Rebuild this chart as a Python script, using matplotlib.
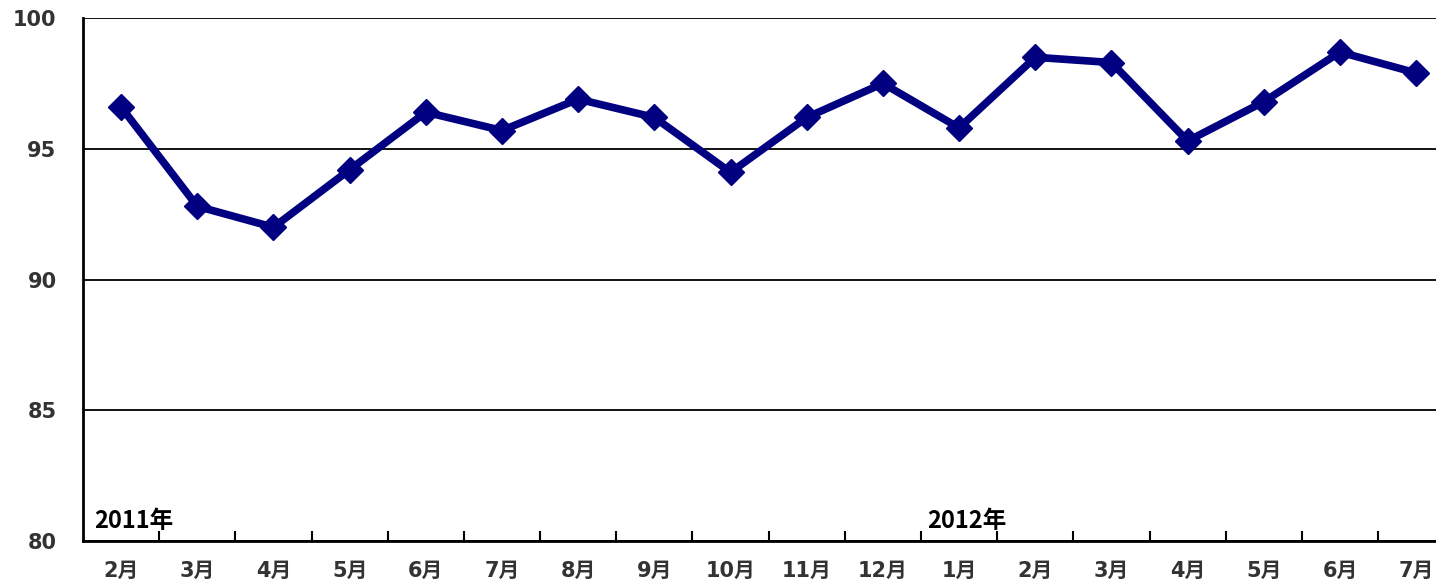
import matplotlib
matplotlib.use("Agg")
import matplotlib.pyplot as plt
from matplotlib.ticker import FixedLocator

plt.rcParams['font.family'] = ['DejaVu Sans', 'Noto Sans CJK JP']

# monthly index, Feb 2011 - Jul 2012
months = ['2月', '3月', '4月', '5月', '6月', '7月', '8月', '9月', '10月', '11月',
          '12月', '1月', '2月', '3月', '4月', '5月', '6月', '7月']
values = [96.6, 92.8, 92.0, 94.2, 96.4, 95.7, 96.9, 96.2, 94.1, 96.2,
          97.5, 95.8, 98.5, 98.3, 95.3, 96.8, 98.7, 97.9]
yticks = [80, 85, 90, 95, 100]

fig = plt.figure(figsize=(14.36, 5.83), dpi=100)
ax = fig.add_axes([0.0578, 0.072, 0.9422, 0.897])

x = list(range(len(months)))
ax.plot(x, values, color='#000080', lw=5.5, marker='D', ms=13, zorder=3,
        solid_joinstyle='miter')

ax.set_ylim(80, 100)
ax.set_xlim(-0.5, 17.26)
ax.set_yticks(yticks)
ax.yaxis.grid(True, color='black', lw=1.3)
ax.set_axisbelow(True)

ax.set_xticks(x)
ax.set_xticklabels(months)
ax.xaxis.set_minor_locator(FixedLocator([i + 0.5 for i in range(len(months) - 1)]))
ax.tick_params(axis='x', which='major', length=0, pad=14)
ax.tick_params(axis='x', which='minor', direction='in', length=7, width=1.5, color='black')
ax.tick_params(axis='y', length=0, pad=19)
for lab in ax.get_xticklabels() + ax.get_yticklabels():
    lab.set_fontsize(15)
    lab.set_fontweight('bold')
    lab.set_color('#333333')

for s in ['top', 'right']:
    ax.spines[s].set_visible(False)
for s in ['left', 'bottom']:
    ax.spines[s].set_linewidth(2)

ax.text(-0.35, 80.5, '2011年', fontsize=17, fontweight='bold', color='black',
        family=['Noto Sans CJK JP'])
ax.text(10.58, 80.5, '2012年', fontsize=17, fontweight='bold', color='black',
        family=['Noto Sans CJK JP'])

fig.savefig('out.png', dpi=100)
